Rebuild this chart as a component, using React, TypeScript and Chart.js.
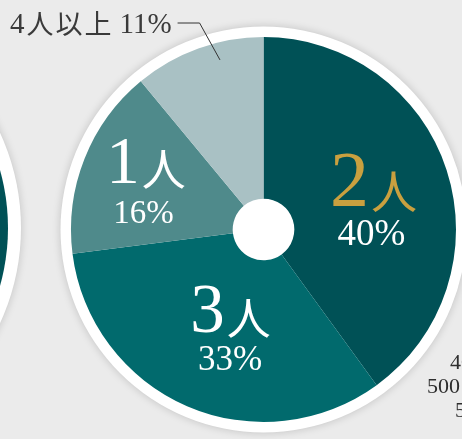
import { useEffect, useRef } from "react";
import { Chart, registerables } from "chart.js";

Chart.register(...registerables);

const categories = ["2人", "3人", "1人", "4人以上"];
const values = [40, 33, 16, 11];
const nameDigits = ["2", "3", "1", "4"];
const nameSuffix = ["人", "人", "人", "人以上"];
const sliceColors = ["#005156", "#016a6d", "#4f8a8b", "#a9c1c4"];
const sideTexts = ["40", "500", "5"];

const SERIF = '"Liberation Serif", "DejaVu Serif", serif';
const CJK = '"Noto Sans CJK JP", sans-serif';

const decor = {
  id: "decor",
  beforeDraw(chart: any) {
    const ctx = chart.ctx as CanvasRenderingContext2D;
    const { width, height } = chart;
    ctx.save();
    ctx.fillStyle = "#ebebeb";
    ctx.fillRect(0, 0, width, height);
    // neighbouring (cut off) pie on the left
    ctx.shadowColor = "rgba(0,0,0,0.18)";
    ctx.shadowBlur = 8;
    ctx.fillStyle = "#ffffff";
    ctx.beginPath();
    ctx.arc(-206, 228, 227, 0, Math.PI * 2);
    ctx.fill();
    ctx.shadowColor = "transparent";
    ctx.fillStyle = sliceColors[0];
    ctx.beginPath();
    ctx.arc(-206, 228, 214, 0, Math.PI * 2);
    ctx.fill();
    // white ring behind main pie
    const arc = chart.getDatasetMeta(0).data[0];
    if (arc) {
      const { x, y, outerRadius } = arc.getProps(["x", "y", "outerRadius"], true);
      ctx.shadowColor = "rgba(0,0,0,0.18)";
      ctx.shadowBlur = 8;
      ctx.fillStyle = "#ffffff";
      ctx.beginPath();
      ctx.arc(x, y, outerRadius + 10.5, 0, Math.PI * 2);
      ctx.fill();
    }
    ctx.restore();
  },
  afterDatasetsDraw(chart: any) {
    const ctx = chart.ctx as CanvasRenderingContext2D;
    const meta = chart.getDatasetMeta(0);
    const a0 = meta.data[0];
    const { x, y, outerRadius: R } = a0.getProps(["x", "y", "outerRadius"], true);
    ctx.save();
    // in-slice labels: index -> [nameDx, nameDy, pctDx, pctDy, digitSize, cjkSize, pctSize]
    const layout: Record<number, number[]> = {
      0: [0.571, -0.125, 0.561, 0.081, 78, 46, 37],
      1: [-0.171, 0.535, -0.174, 0.73, 69, 44, 35],
      2: [-0.61, -0.24, -0.623, -0.034, 67, 44, 33],
    };
    Object.keys(layout).forEach((k) => {
      const i = Number(k);
      const [ndx, ndy, pdx, pdy, ds, cs, ps] = layout[i];
      const color = i === 0 ? "#c9a03f" : "#ffffff";
      ctx.fillStyle = color;
      ctx.textBaseline = "alphabetic";
      ctx.textAlign = "left";
      const dFont = `${ds}px ${SERIF}`;
      const cFont = `${cs}px ${CJK}`;
      ctx.font = dFont;
      const dw = ctx.measureText(nameDigits[i]).width;
      ctx.font = cFont;
      const cw = ctx.measureText(nameSuffix[i]).width;
      const gap = 2;
      const total = dw + gap + cw;
      const bx = x + ndx * R - total / 2;
      const by = y + ndy * R;
      ctx.font = dFont;
      ctx.fillText(nameDigits[i], bx, by);
      ctx.font = cFont;
      ctx.fillText(nameSuffix[i], bx + dw + gap, by + 3);
      ctx.fillStyle = "#ffffff";
      ctx.font = `${ps}px ${SERIF}`;
      ctx.textAlign = "center";
      ctx.fillText(`${values[i]}%`, x + pdx * R, y + pdy * R);
    });
    // outside label for the small slice with leader line
    ctx.textAlign = "left";
    ctx.fillStyle = "#3a3a3a";
    let cx = 10;
    ctx.font = `29px ${SERIF}`;
    ctx.fillText(nameDigits[3], cx, 33);
    cx += ctx.measureText(nameDigits[3]).width + 2;
    ctx.font = `27px ${CJK}`;
    for (const ch of nameSuffix[3]) {
      ctx.fillText(ch, cx, 34);
      cx += ctx.measureText(ch).width + 2;
    }
    cx += 6;
    ctx.font = `29px ${SERIF}`;
    const pctText = `${values[3]}%`;
    ctx.fillText(pctText, cx, 33);
    cx += ctx.measureText(pctText).width;
    const sx = cx + 6;
    ctx.strokeStyle = "#333333";
    ctx.lineWidth = 1;
    ctx.beginPath();
    ctx.moveTo(sx, 23);
    ctx.lineTo(sx + 22, 23);
    ctx.lineTo(x - 0.226 * R, y - 0.881 * R);
    ctx.stroke();
    // cut-off text at lower right
    ctx.font = `22px ${SERIF}`;
    ctx.fillStyle = "#2e2e2e";
    ctx.fillText(sideTexts[0], 450, 369);
    ctx.fillText(sideTexts[1], 427, 393);
    ctx.fillText(sideTexts[2], 455, 417);
    ctx.restore();
  },
};

export default function App() {
  const ref = useRef<HTMLCanvasElement>(null);
  useEffect(() => {
    if (!ref.current) return;
    const chart = new Chart(ref.current, {
      type: "doughnut",
      data: {
        labels: categories,
        datasets: [
          {
            data: values,
            backgroundColor: sliceColors,
            borderWidth: 0,
          },
        ],
      },
      options: {
        responsive: false,
        animation: false,
        cutout: "16%",
        layout: { padding: { left: 71, right: 6, top: 37, bottom: 17 } },
        plugins: { legend: { display: false }, tooltip: { enabled: false } },
      },
      plugins: [decor],
    });
    return () => chart.destroy();
  }, []);
  return (
    <div style={{ position: "fixed", left: 0, top: 0, width: 462, height: 439 }}>
      <canvas ref={ref} width={462} height={439} style={{ display: "block", width: 462, height: 439 }} />
    </div>
  );
}
